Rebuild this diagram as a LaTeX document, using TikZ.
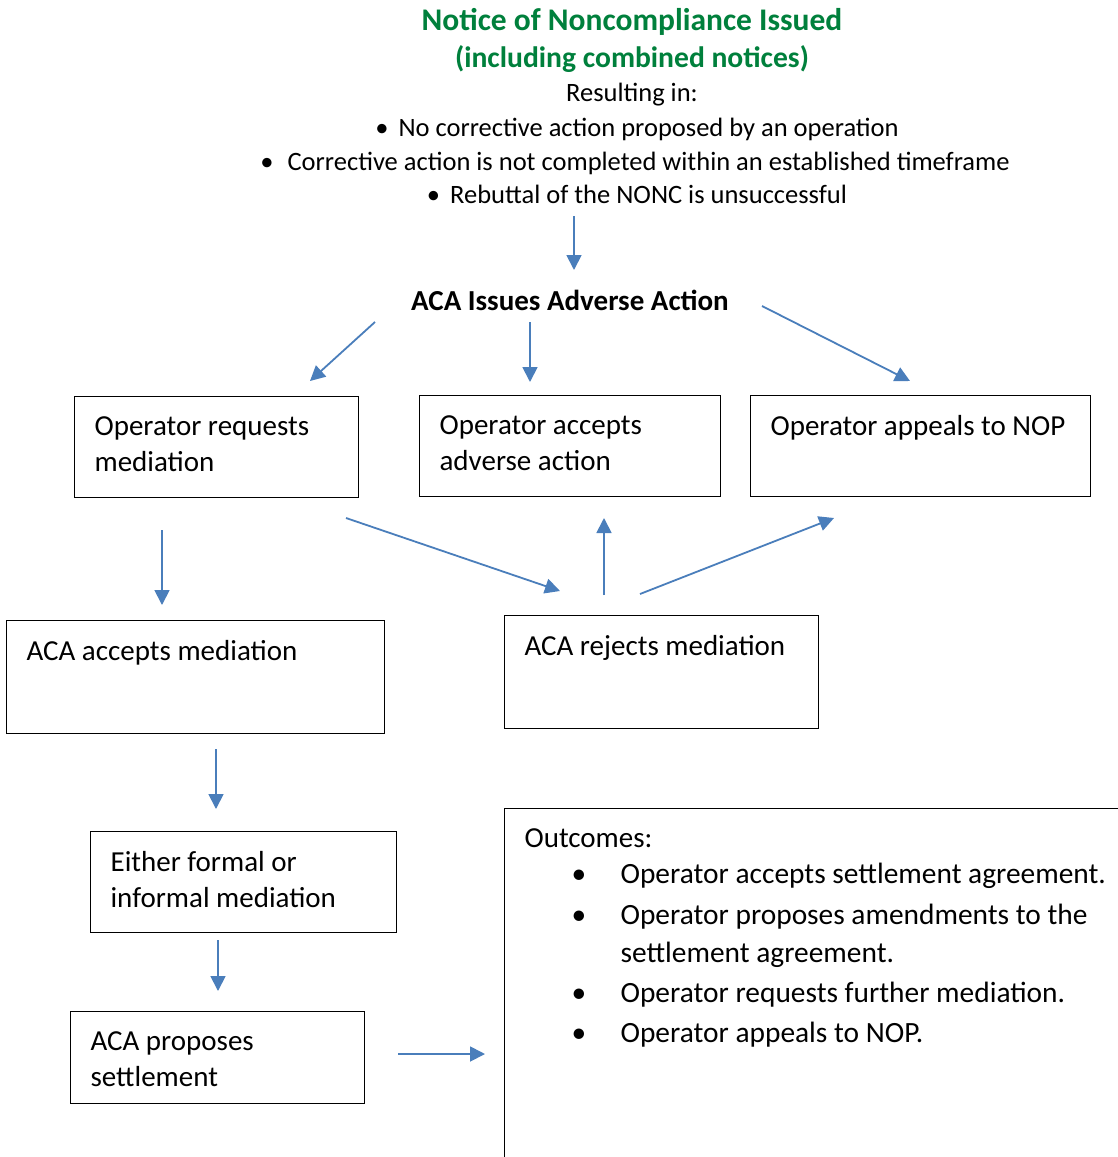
\documentclass[tikz,border=0pt]{standalone}
\usepackage{fontspec}
\setmainfont{Carlito}
\usetikzlibrary{arrows.meta,calc}
\definecolor{titlegreen}{RGB}{0,128,60}
\definecolor{arrowblue}{RGB}{74,126,187}
\newcommand\bxt[3]{\parbox[t][#2][t]{#1}{\raggedright #3}}
\begin{document}
\begin{tikzpicture}[x=1pt,y=-1pt,
  box/.style={draw=black, line width=1.2pt, anchor=north west, inner xsep=20pt, inner ysep=20pt,
    font=\fontsize{29}{36}\selectfont},
  flow/.style={draw=arrowblue, line width=1.8pt, -{Triangle[length=15pt,width=15pt]}},
  plain/.style={inner sep=0pt, anchor=base},
  ttl/.style={plain, text=titlegreen},
  res/.style={plain, font=\fontsize{26.5}{34}\selectfont}]
\clip (0,0) rectangle (1118,1157);
\fill[white] (0,0) rectangle (1118,1157);

% heading
\node[ttl, font=\bfseries\fontsize{31.5}{37}\selectfont] (title1) at (632,30) {Notice of Noncompliance Issued};
\node[ttl, font=\bfseries\fontsize{29.6}{37}\selectfont] (title2) at (632,67) {(including combined notices)};
\node[res] (result) at (632,101) {Resulting in:};
\node[res] (r1) at (637,136) {\textbullet\hspace{10pt}No corrective action proposed by an operation};
\node[res] (r2) at (635,170) {\textbullet\hspace{14pt}Corrective action is not completed within an established timeframe};
\node[res] (r3) at (637,203) {\textbullet\hspace{10pt}Rebuttal of the NONC is unsuccessful};

\node[plain, font=\bfseries\fontsize{29}{36}\selectfont] (aca) at (570,310) {ACA Issues Adverse Action};

% boxes
\node[box] (req) at (74,396) {\bxt{244pt}{61pt}{Operator requests mediation}};
\node[box] (acc) at (419,395) {\bxt{261pt}{61pt}{Operator accepts adverse action}};
\node[box] (app) at (750,395) {\bxt{300pt}{61pt}{Operator appeals to NOP}};
\node[box] (acm) at (6,620) {\bxt{338pt}{73pt}{ACA accepts mediation}};
\node[box] (rej) at (504,615) {\bxt{274pt}{73pt}{ACA rejects mediation}};
\node[box] (eit) at (90,831) {\bxt{266pt}{61pt}{Either formal or informal mediation}};
\node[box] (pro) at (70,1011) {\bxt{254pt}{52pt}{ACA proposes settlement}};
\node[box, inner ysep=0pt, inner xsep=0pt] (out) at (504,808) {\parbox[t][400pt][t]{700pt}{%
  \vspace{20pt}\hspace*{20pt}Outcomes:\\[-2pt]
  \fontsize{29.4}{38}\selectfont
  \hspace*{67pt}\makebox[49pt][l]{\textbullet}Operator accepts settlement agreement.\\[3pt]
  \hspace*{67pt}\makebox[49pt][l]{\textbullet}Operator proposes amendments to the\\
  \hspace*{116pt}settlement agreement.\\[2pt]
  \hspace*{67pt}\makebox[49pt][l]{\textbullet}Operator requests further mediation.\\[2pt]
  \hspace*{67pt}\makebox[49pt][l]{\textbullet}Operator appeals to NOP.}};

% arrow end points
\coordinate (a0s) at (574,216); \coordinate (a0e) at (574,270);
\coordinate (a1s) at (375,322); \coordinate (a1e) at (310,381);
\coordinate (a2s) at (530,322); \coordinate (a2e) at (530,382);
\coordinate (a3s) at (762,306); \coordinate (a3e) at (910,381);
\coordinate (a4s) at (162,530); \coordinate (a4e) at (162,605);
\coordinate (a5s) at (346,518); \coordinate (a5e) at (560,591);
\coordinate (a6s) at (604,595); \coordinate (a6e) at (604,518);
\coordinate (a7s) at (640,594); \coordinate (a7e) at (834,518);
\coordinate (a8s) at (216,749); \coordinate (a8e) at (216,809);
\coordinate (a9s) at (218,940); \coordinate (a9e) at (218,991);
\coordinate (a10s) at (398,1054); \coordinate (a10e) at (485,1054);

\draw[flow] (a0s) -- (a0e);
\draw[flow] (a1s) -- (a1e);
\draw[flow] (a2s) -- (a2e);
\draw[flow] (a3s) -- (a3e);
\draw[flow] (a4s) -- (a4e);
\draw[flow] (a5s) -- (a5e);
\draw[flow] (a6s) -- (a6e);
\draw[flow] (a7s) -- (a7e);
\draw[flow] (a8s) -- (a8e);
\draw[flow] (a9s) -- (a9e);
\draw[flow] (a10s) -- (a10e);
\end{tikzpicture}
\end{document}
